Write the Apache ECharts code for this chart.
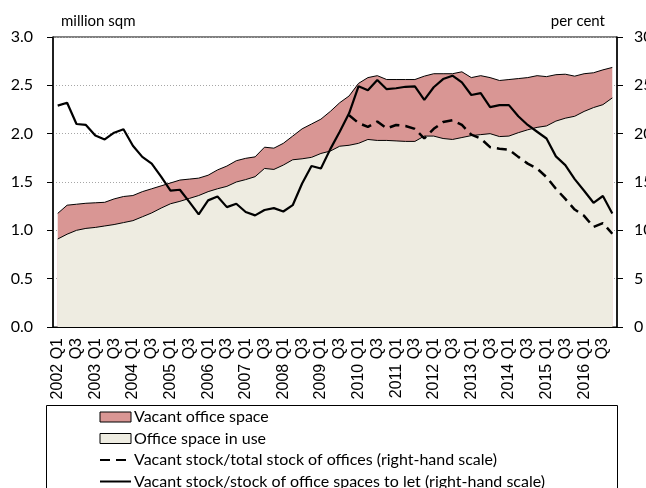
<!DOCTYPE html>
<html>
<head>
<meta charset="utf-8">
<script src="https://cdn.jsdelivr.net/npm/echarts@6/dist/echarts.min.js"></script>
<style>
  html, body { margin: 0; padding: 0; background: #fff; }
  #main { width: 646px; height: 488px; }
</style>
</head>
<body>
<div id="main"></div>
<script>
// quarters 2002 Q1 .. 2016 Q4
var years = [2002, 2003, 2004, 2005, 2006, 2007, 2008, 2009, 2010, 2011, 2012, 2013, 2014, 2015, 2016];
var quarters = ['Q1', 'Q2', 'Q3', 'Q4'];

// million sqm
var totalStock = [
    1.175, 1.26, 1.27, 1.28, 1.285, 1.29, 1.325, 1.35, 1.36, 1.40,
    1.43, 1.46, 1.49, 1.52, 1.53, 1.54, 1.57, 1.625, 1.665, 1.72,
    1.745, 1.76, 1.86, 1.85, 1.90, 1.975, 2.05, 2.10, 2.15, 2.23,
    2.32, 2.39, 2.52, 2.58, 2.60, 2.56, 2.56, 2.56, 2.56, 2.595,
    2.62, 2.62, 2.62, 2.64, 2.58, 2.60, 2.58, 2.55, 2.56, 2.57,
    2.58, 2.60, 2.59, 2.61, 2.615, 2.595, 2.62, 2.63, 2.66, 2.685
];
var inUse = [
    0.91, 0.96, 1.00, 1.02, 1.03, 1.045, 1.06, 1.08, 1.10, 1.14,
    1.18, 1.23, 1.275, 1.30, 1.33, 1.36, 1.40, 1.43, 1.455, 1.50,
    1.525, 1.555, 1.64, 1.63, 1.675, 1.73, 1.74, 1.755, 1.795, 1.82,
    1.87, 1.88, 1.90, 1.94, 1.93, 1.93, 1.925, 1.92, 1.92, 1.975,
    1.975, 1.95, 1.94, 1.96, 1.98, 1.99, 2.00, 1.97, 1.975, 2.01,
    2.04, 2.065, 2.08, 2.13, 2.16, 2.18, 2.23, 2.27, 2.30, 2.37
];
// per cent
var vacantTotal = [
    null, null, null, null, null, null, null, null, null, null,
    null, null, null, null, null, null, null, null, null, null,
    null, null, null, null, null, null, null, null, null, null,
    null, 21.9, 21.1, 20.7, 21.25, 20.55, 20.9, 20.8, 20.5, 19.5,
    20.5, 21.2, 21.4, 20.9, 19.9, 19.5, 18.6, 18.45, 18.35, 17.6,
    16.9, 16.4, 15.5, 14.3, 13.25, 12.15, 11.5, 10.35, 10.75, 9.65
];
var vacantToLet = [
    22.9, 23.2, 21.0, 20.9, 19.8, 19.4, 20.1, 20.45, 18.75, 17.6,
    16.9, 15.55, 14.1, 14.2, 12.95, 11.65, 13.1, 13.5, 12.4, 12.75,
    11.9, 11.55, 12.1, 12.3, 11.95, 12.6, 14.85, 16.65, 16.4, 18.4,
    20.2, 22.1, 24.9, 24.5, 25.55, 24.6, 24.7, 24.85, 24.9, 23.5,
    24.8, 25.65, 26.0, 25.3, 24.0, 24.2, 22.75, 22.95, 22.95, 21.8,
    20.9, 20.2, 19.5, 17.65, 16.75, 15.3, 14.1, 12.85, 13.55, 11.75
];

var leftTicks = [0, 0.5, 1.0, 1.5, 2.0, 2.5, 3.0];
var rightTicks = [0, 5, 10, 15, 20, 25, 30];

var categories = [];
for (var y = 0; y < years.length; y++) {
    for (var q = 0; q < quarters.length; q++) {
        categories.push(years[y] + ' ' + quarters[q]);
    }
}

var pink = '#D99694';
var beige = '#EEECE1';

var myChart = echarts.init(document.getElementById('main'));

var option = {
    animation: false,
    grid: {
        left: 53,
        right: 29,
        top: 37,
        bottom: 161,
        outerBoundsMode: 'none',
        containLabel: false,
        show: true,
        borderColor: '#000',
        borderWidth: 1,
        backgroundColor: 'transparent'
    },
    legend: {
        orient: 'vertical',
        left: 99,
        top: 408,
        height: 200,
        itemWidth: 31,
        itemHeight: 10,
        itemGap: 3.5,
        padding: 0,
        textStyle: {
            fontFamily: 'Lato',
            fontSize: 16,
            lineHeight: 18,
            color: '#000',
            padding: [0, 0, 0, -2]
        },
        data: [
            { name: 'Vacant office space', icon: 'rect', itemStyle: { color: pink, borderColor: '#000', borderWidth: 1 } },
            { name: 'Office space in use', icon: 'rect', itemStyle: { color: beige, borderColor: '#000', borderWidth: 1 } },
            { name: 'Vacant stock/total stock of offices (right-hand scale)', itemStyle: { opacity: 0 } },
            { name: 'Vacant stock/stock of office spaces to let (right-hand scale)', itemStyle: { opacity: 0 } }
        ]
    },
    graphic: [{
        type: 'rect',
        shape: { x: 46.5, y: 405.5, width: 571, height: 120 },
        style: { fill: null, stroke: '#000', lineWidth: 1 },
        silent: true
    }],
    xAxis: {
        type: 'category',
        data: categories,
        boundaryGap: true,
        axisLine: { lineStyle: { color: '#000', width: 1 } },
        axisTick: { interval: 0, length: 5, lineStyle: { color: '#000' } },
        axisLabel: {
            interval: 1,
            rotate: 90,
            margin: 11,
            fontFamily: 'Liberation Sans',
            fontSize: 16,
            color: '#000',
            formatter: function (v) {
                return v.indexOf('Q1') > 0 ? v : 'Q3';
            }
        },
        splitLine: { show: false }
    },
    yAxis: [{
        type: 'value',
        min: leftTicks[0],
        max: leftTicks[leftTicks.length - 1],
        interval: 0.5,
        name: 'million sqm',
        nameLocation: 'end',
        nameGap: 8,
        nameTextStyle: {
            fontFamily: 'Lato',
            fontSize: 15,
            color: '#000',
            align: 'left',
            padding: [0, 0, 0, 8]
        },
        axisLine: { show: true, lineStyle: { color: '#000', width: 1.5 } },
        axisTick: { show: true, length: 6, lineStyle: { color: '#000' } },
        axisLabel: {
            margin: 20,
            fontFamily: 'Lato',
            fontSize: 16,
            color: '#000',
            formatter: function (v) { return v.toFixed(1); }
        },
        splitLine: { show: true, lineStyle: { color: '#A6A6A6', type: [1, 2], width: 1 } }
    }, {
        type: 'value',
        min: rightTicks[0],
        max: rightTicks[rightTicks.length - 1],
        interval: 5,
        name: 'per cent',
        nameLocation: 'end',
        nameGap: 8,
        nameTextStyle: {
            fontFamily: 'Lato',
            fontSize: 15,
            color: '#000',
            align: 'right',
            padding: [0, 12, 0, 0]
        },
        axisLine: { show: true, lineStyle: { color: '#000', width: 1.5 } },
        axisTick: { show: true, length: 6, lineStyle: { color: '#000' } },
        axisLabel: {
            margin: 17,
            fontFamily: 'Lato',
            fontSize: 16,
            color: '#000'
        },
        splitLine: { show: false }
    }],
    series: [{
        name: 'Vacant office space',
        type: 'line',
        data: totalStock,
        yAxisIndex: 0,
        symbol: 'none',
        color: pink,
        lineStyle: { color: '#000', width: 1 },
        areaStyle: { color: pink, opacity: 1 },
        z: 1
    }, {
        name: 'Office space in use',
        type: 'line',
        data: inUse,
        yAxisIndex: 0,
        symbol: 'none',
        color: beige,
        lineStyle: { color: '#000', width: 1 },
        areaStyle: { color: beige, opacity: 1 },
        z: 2
    }, {
        name: 'Vacant stock/total stock of offices (right-hand scale)',
        type: 'line',
        data: vacantTotal,
        yAxisIndex: 1,
        symbol: 'none',
        color: '#000',
        lineStyle: { color: '#000', width: 2.5, type: [10, 6] },
        z: 3
    }, {
        name: 'Vacant stock/stock of office spaces to let (right-hand scale)',
        type: 'line',
        data: vacantToLet,
        yAxisIndex: 1,
        symbol: 'none',
        color: '#000',
        lineStyle: { color: '#000', width: 2.2 },
        z: 4
    }]
};

myChart.setOption(option);
</script>
</body>
</html>
